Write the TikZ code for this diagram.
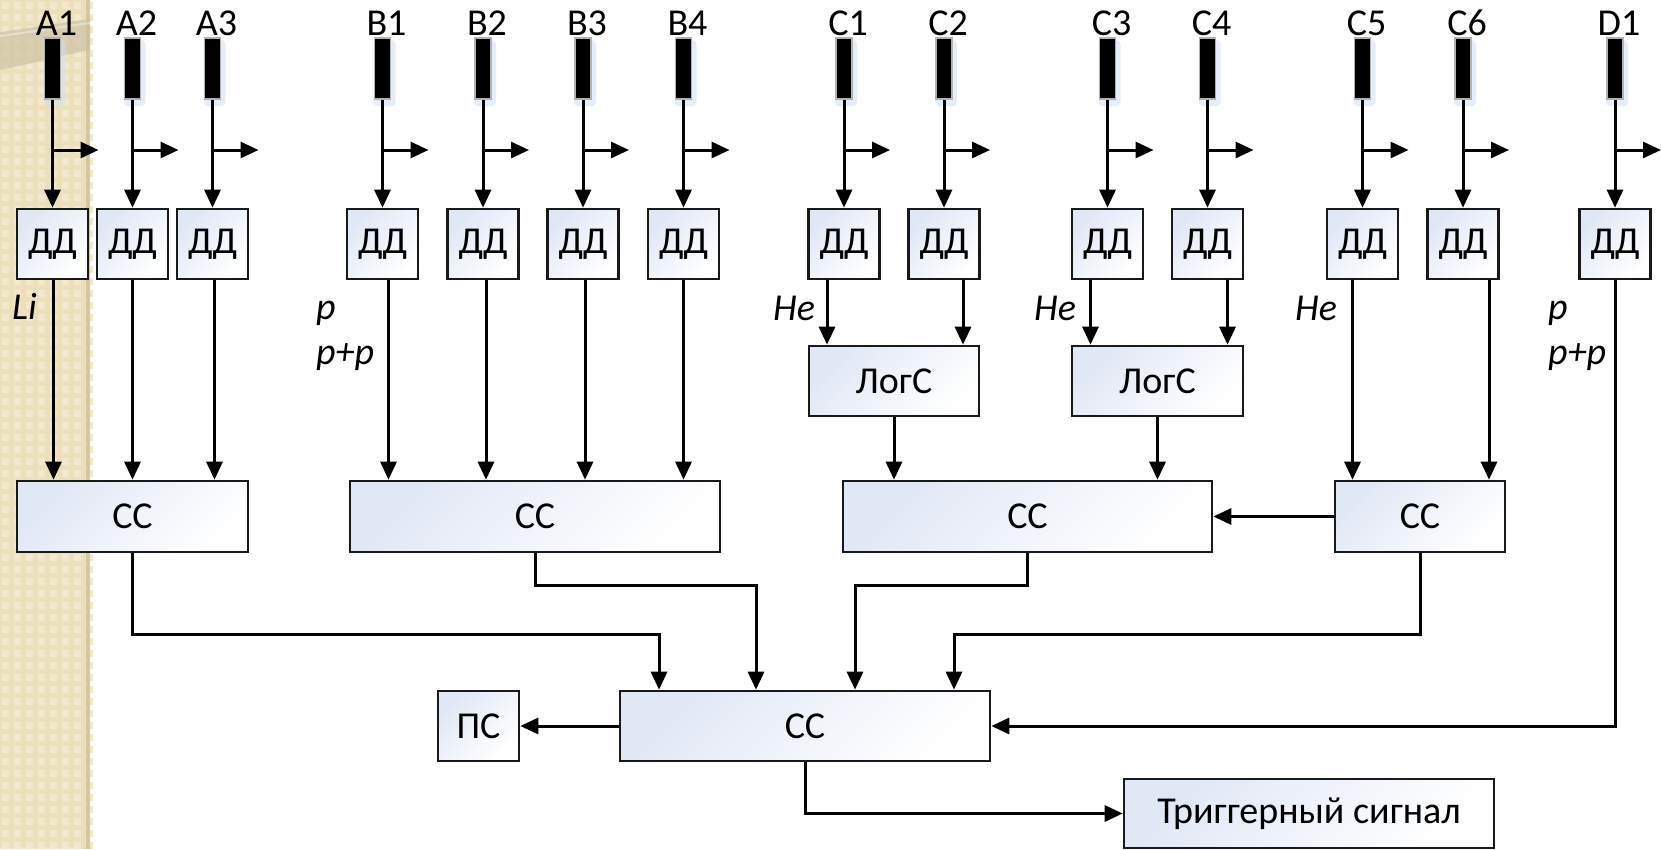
\documentclass[tikz,border=0pt]{standalone}
\usepackage{fontspec}
\setmainfont{Carlito}
\usetikzlibrary{arrows.meta,calc}
\definecolor{boxtl}{RGB}{224,231,245}
\definecolor{boxline}{RGB}{25,25,25}
\definecolor{beige}{RGB}{236,224,186}
\definecolor{beigelt}{RGB}{242,233,204}
\definecolor{beigedk}{RGB}{214,200,158}
\definecolor{ringc}{RGB}{200,190,160}
\definecolor{glowc}{RGB}{208,224,243}
\begin{document}
\begin{tikzpicture}[x=1pt,y=-1pt,
  font=\fontsize{38}{44}\selectfont,
  box/.style={draw=boxline, line width=2.6pt, top color=boxtl, bottom color=white,
    shading angle=45, minimum height=70pt, inner sep=0pt},
  dd/.style={box, minimum width=71pt},
  sensor/.style={fill=black, draw=gray!60, line width=1.5pt, minimum width=16pt,
    minimum height=61pt, inner sep=0pt},
  arr/.style={line width=3pt, -{Triangle[length=18pt,width=16pt]}},
  lab/.style={anchor=base west, font=\fontsize{38}{44}\selectfont\itshape, inner sep=0pt},
  toplab/.style={anchor=base, inner sep=0pt}]
\useasboundingbox (0,0) rectangle (1661,849);
\fill[white] (0,0) rectangle (1661,849);
% beige strip
\fill[beige] (0,0) rectangle (90,849);
\foreach \i in {0,...,7}{
  \foreach \j in {0,...,71}{
    \fill[beigelt] (\i*12+2,\j*12+2) rectangle ++(7,7);
  }
}
\fill[beigedk] (86,0) rectangle (90,849);
\fill[ringc, opacity=0.6] (0,32) .. controls (30,28) and (60,23) .. (90,19)
   -- (90,50) .. controls (60,56) and (30,64) .. (0,70) -- cycle;
\draw[white, opacity=0.4, line width=2pt] (0,36) .. controls (30,32) and (60,27) .. (90,23);

% sensors, labels, DD boxes, branch arrows
\foreach \n/\x in {A1/52.5,A2/132.5,A3/212.5,B1/382.5,B2/483,B3/583,B4/683.5,
                   C1/844,C2/944,C3/1107.5,C4/1207.5,C5/1362.5,C6/1463,D1/1615}{
  \fill[glowc, opacity=0.55, rounded corners=4pt] (\x-9,40) rectangle (\x+13,106);
  \node[sensor] (s\n) at (\x,68.5) {};
  \node[toplab] (l\n) at (\x+4,35) {\n};
  \node[dd] (d\n) at (\x,244) {ДД};
  \draw[arr] (s\n.south) -- (d\n.north);
  \coordinate (b\n) at (\x,150);
  \coordinate (t\n) at (\x+46,150);
  \draw[arr] (b\n) -- (t\n);
}

% LogS boxes
\node[box, minimum width=170pt] (lg1) at (894,381) {ЛогС};
\node[box, minimum width=171pt] (lg2) at (1157.5,381) {ЛогС};

% CC boxes
\node[box, minimum width=231pt, minimum height=71pt] (cc1) at (132.5,516.5) {СС};
\node[box, minimum width=370pt, minimum height=71pt] (cc2) at (535,516.5) {СС};
\node[box, minimum width=369pt, minimum height=71pt] (cc3) at (1027.5,516.5) {СС};
\node[box, minimum width=170pt, minimum height=71pt] (cc4) at (1420,516.5) {СС};
\node[box, minimum width=370pt] (main) at (805,726) {СС};
\node[box, minimum width=81pt] (ps) at (478.5,726) {ПС};
\node[box, minimum width=370pt, minimum height=69pt] (trig) at (1309,813.5) {Триггерный сигнал};

% labels
\node[lab] (tLi) at (12,319) {Li};
\node[lab] (tp1) at (316,319) {p};
\node[lab] (tpp1) at (316,364) {p+p};
\node[lab] (the1) at (773,320) {He};
\node[lab] (the2) at (1034,320) {He};
\node[lab] (the3) at (1295,320) {He};
\node[lab] (tp2) at (1548,319) {p};
\node[lab] (tpp2) at (1548,364) {p+p};

% DD -> next stage
\foreach \n/\o/\t in {A1/1/cc1,A2/0/cc1,A3/2/cc1,B1/6/cc2,B2/3/cc2,B3/2/cc2,B4/0/cc2,
                      C1/-17/lg1,C2/19/lg1,C3/-17/lg2,C4/20/lg2,C5/-10/cc4,C6/26/cc4}{
  \draw[arr] ([xshift=\o pt]d\n.south) -- ([xshift=\o pt]d\n.south |- \t.north);
}
\draw[arr] (lg1.south) -- (lg1.south |- cc3.north);
\draw[arr] (lg2.south) -- (lg2.south |- cc3.north);
\draw[arr] (cc4.west) -- (cc3.east);

% routes to main CC
\coordinate (j1) at (659,634);
\coordinate (j2) at (756,585);
\coordinate (j3) at (855,585);
\coordinate (j4) at (954,634);
\draw[arr] (cc1.south) |- (j1) -- (j1 |- main.north);
\draw[arr] (cc2.south) |- (j2) -- (j2 |- main.north);
\draw[arr] (cc3.south) |- (j3) -- (j3 |- main.north);
\draw[arr] (cc4.south) |- (j4) -- (j4 |- main.north);
\draw[arr] (dD1.south) |- (main.east);
\draw[arr] (main.west) -- (ps.east);
\draw[arr] (main.south) |- (trig.west);
\end{tikzpicture}
\end{document}
